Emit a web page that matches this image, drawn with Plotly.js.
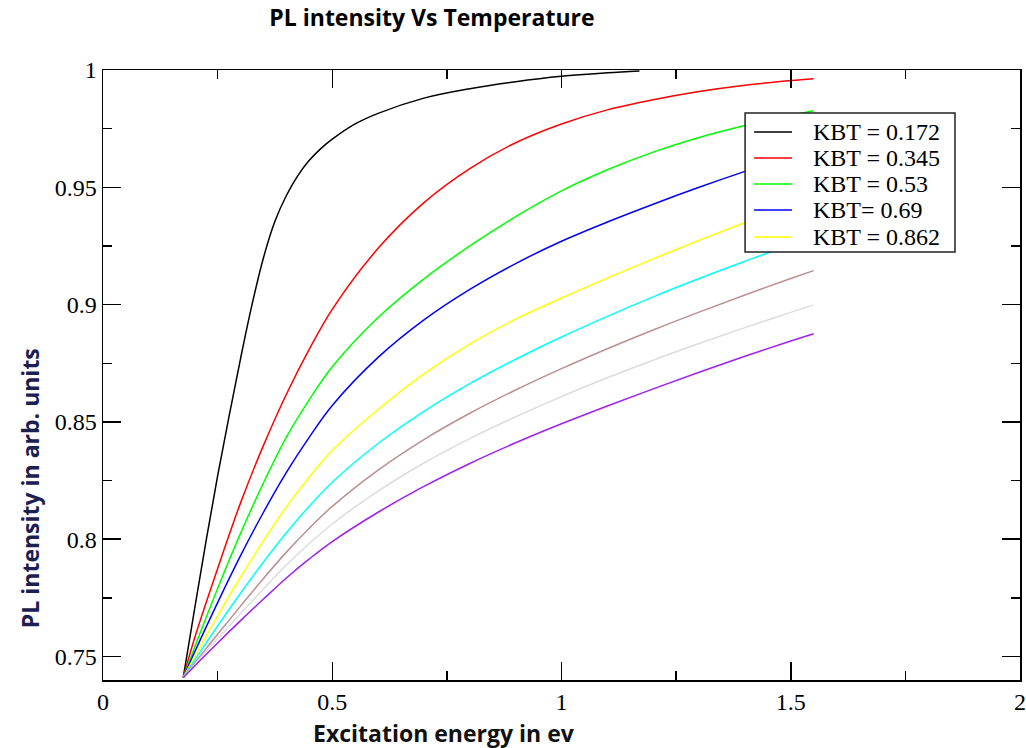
<!DOCTYPE html>
<html>
<head>
<meta charset="utf-8">
<script src="https://cdn.plot.ly/plotly-3.0.1.min.js"></script>
<style>html,body{margin:0;padding:0;background:#fff;}#chart{width:1026px;height:748px;}</style>
</head>
<body>
<div id="chart"></div>
<script>
// Data
const seriesNames = ["KBT = 0.172", "KBT = 0.345", "KBT = 0.53", "KBT= 0.69", "KBT = 0.862", "", "", "", ""];
const seriesColors = ["#000000", "#ff0000", "#00ff00", "#0000ff", "#ffff00", "#00ffff", "#bc8f8f", "#dcdcdc", "#a020f0"];

const xBlack = [0.175, 0.2, 0.225, 0.25, 0.275, 0.3, 0.325, 0.35, 0.375, 0.4, 0.425, 0.45, 0.475, 0.5, 0.55, 0.6, 0.7, 0.8, 0.9, 1.0, 1.1, 1.17];
const yBlack = [0.741, 0.7705, 0.7995, 0.827, 0.8525, 0.877, 0.900, 0.920, 0.9355, 0.9465, 0.955, 0.9615, 0.9665, 0.9705, 0.977, 0.9815, 0.988, 0.992, 0.995, 0.9973, 0.9988, 0.9996];

const xGrid = [0.175, 0.2, 0.25, 0.3, 0.35, 0.4, 0.45, 0.5, 0.6, 0.7, 0.8, 0.9, 1.0, 1.1, 1.2, 1.3, 1.4, 1.5, 1.55];
const yRed    = [0.741, 0.758, 0.7875, 0.8155, 0.840, 0.8618, 0.881, 0.898, 0.924, 0.9435, 0.958, 0.969, 0.977, 0.983, 0.9873, 0.9908, 0.9935, 0.9955, 0.9963];
const yGreen  = [0.741, 0.754, 0.779, 0.8025, 0.824, 0.8435, 0.8595, 0.8735, 0.8945, 0.911, 0.925, 0.9375, 0.9485, 0.9575, 0.965, 0.9712, 0.9763, 0.9806, 0.9826];
const yBlue   = [0.741, 0.752, 0.773, 0.793, 0.8115, 0.8285, 0.8435, 0.857, 0.8775, 0.8935, 0.9065, 0.9175, 0.927, 0.9352, 0.9428, 0.950, 0.9568, 0.9632, 0.9663];
const yYellow = [0.741, 0.750, 0.7673, 0.7838, 0.7993, 0.8138, 0.8265, 0.8378, 0.8553, 0.8705, 0.8832, 0.8938, 0.9028, 0.9113, 0.9195, 0.9274, 0.935, 0.9422, 0.9456];
const yCyan   = [0.741, 0.7485, 0.763, 0.777, 0.7903, 0.8028, 0.8141, 0.8243, 0.8408, 0.8545, 0.8663, 0.8767, 0.8862, 0.895, 0.9033, 0.9111, 0.9185, 0.9255, 0.9289];
const yRosy   = [0.741, 0.7473, 0.7595, 0.7715, 0.7833, 0.7945, 0.8047, 0.814, 0.8295, 0.8425, 0.8537, 0.8636, 0.8727, 0.8812, 0.8892, 0.8968, 0.9041, 0.9111, 0.9145];
const yGray   = [0.741, 0.7466, 0.7576, 0.7683, 0.7788, 0.789, 0.7982, 0.8065, 0.8205, 0.8325, 0.8429, 0.8522, 0.8608, 0.8688, 0.8763, 0.8834, 0.8902, 0.8967, 0.8999];
const yPurple = [0.741, 0.746, 0.7558, 0.7653, 0.7745, 0.7835, 0.7916, 0.799, 0.8115, 0.8225, 0.8323, 0.8411, 0.8492, 0.8568, 0.8641, 0.8712, 0.878, 0.8845, 0.8876];

const xs = [xBlack, xGrid, xGrid, xGrid, xGrid, xGrid, xGrid, xGrid, xGrid];
const ys = [yBlack, yRed, yGreen, yBlue, yYellow, yCyan, yRosy, yGray, yPurple];
const legendCount = 5;

const traces = ys.map((y, i) => ({
  x: xs[i], y: y, type: 'scatter', mode: 'lines',
  name: seriesNames[i] || ('series ' + (i + 1)),
  showlegend: false,
  line: {color: seriesColors[i], width: 1.5, shape: 'spline', smoothing: 1}
}));

const serif = "Liberation Serif";
const sans = "Open Sans";

function axisCommon(dtick, minorDtick) {
  return {
    tickmode: 'linear', tick0: 0, dtick: dtick,
    showgrid: false, zeroline: false,
    showline: true, linecolor: '#000', linewidth: 1.5, mirror: 'ticks',
    ticks: 'inside', ticklen: 18, tickwidth: 1.5, tickcolor: '#000',
    minor: {ticks: 'inside', ticklen: 9, tickwidth: 1.5, tickcolor: '#000', dtick: minorDtick, showgrid: false},
    tickfont: {family: serif, size: 24, color: '#000'}
  };
}

// Legend box (drawn in paper coordinates, on top of the curves)
const legendBox = {x0: 0.7002, x1: 0.9291, y0: 0.7016, y1: 0.9295};
const legendRowY = [0.8984, 0.8557, 0.8131, 0.7705, 0.7262];
const legendLineX = [0.7100, 0.7514];
const legendTextX = 0.7722;

const shapes = [{type: 'rect', xref: 'paper', yref: 'paper', layer: 'above',
  x0: legendBox.x0, x1: legendBox.x1, y0: legendBox.y0, y1: legendBox.y1,
  fillcolor: '#ffffff', line: {color: '#222', width: 1.5}}];
const annotations = [];
for (let i = 0; i < legendCount; i++) {
  shapes.push({type: 'line', xref: 'paper', yref: 'paper', layer: 'above',
    x0: legendLineX[0], x1: legendLineX[1], y0: legendRowY[i], y1: legendRowY[i],
    line: {color: seriesColors[i], width: 1.5}});
  annotations.push({text: seriesNames[i], xref: 'paper', yref: 'paper', x: legendTextX, y: legendRowY[i],
    xanchor: 'left', yanchor: 'middle', showarrow: false,
    font: {family: serif, size: 24, color: '#000'}});
}
annotations.push(
  {text: 'Excitation energy in ev', xref: 'paper', yref: 'paper', x: 0.372, y: -0.087,
   xanchor: 'center', yanchor: 'middle', showarrow: false,
   font: {family: sans, size: 23, color: '#111', weight: 'bold'}},
  {text: 'PL intensity in arb. units', xref: 'paper', yref: 'paper', x: -0.0793, y: 0.315,
   xanchor: 'center', yanchor: 'middle', showarrow: false, textangle: -90,
   font: {family: sans, size: 23, color: '#1c2050', weight: 'bold'}}
);

const layout = {
  width: 1026, height: 748,
  margin: {l: 103, r: 6, t: 70, b: 68},
  paper_bgcolor: '#ffffff', plot_bgcolor: '#ffffff',
  font: {family: serif, size: 24, color: '#000'},
  showlegend: false,
  title: {text: 'PL intensity Vs Temperature', font: {family: sans, size: 23, color: '#000', weight: 'bold'},
          x: 0.421, xref: 'container', xanchor: 'center', y: 0.976, yref: 'container', yanchor: 'middle'},
  xaxis: Object.assign({range: [0, 2]}, axisCommon(0.5, 0.25)),
  yaxis: Object.assign({range: [0.74, 1.0]}, axisCommon(0.05, 0.025)),
  shapes: shapes,
  annotations: annotations
};

Plotly.newPlot('chart', traces, layout, {displayModeBar: false, staticPlot: true});
</script>
</body>
</html>
